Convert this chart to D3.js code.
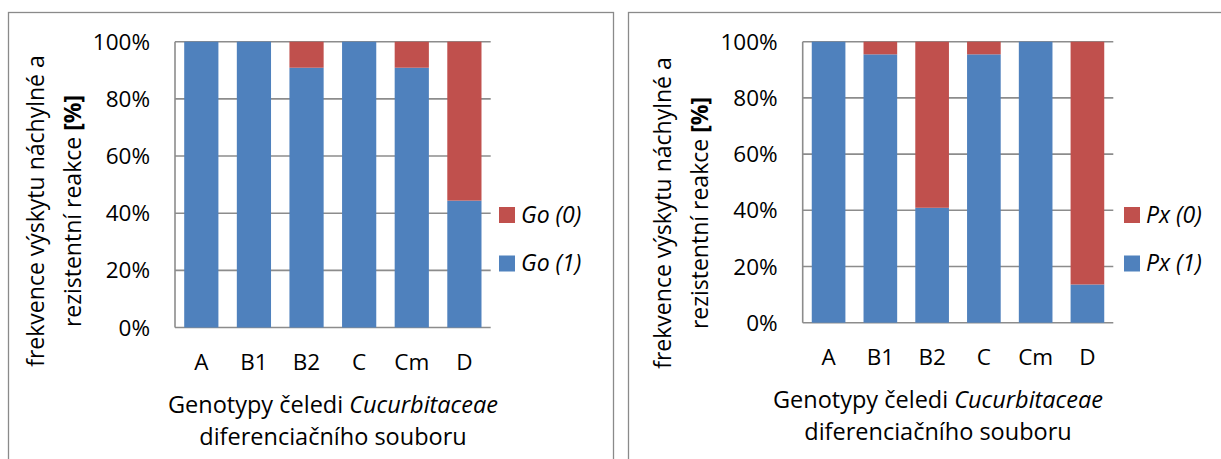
<!DOCTYPE html>
<html>
<head>
<meta charset="utf-8">
<script src="https://cdn.jsdelivr.net/npm/d3@7"></script>
<style>
  html, body { margin: 0; padding: 0; background: #fff; }
  svg { display: block; }
  text { font-family: 'Open Sans', sans-serif; fill: #000; }
</style>
</head>
<body>
<div id="chart"></div>
<script>
// data (share of reactions, %)
const categories = ['A', 'B1', 'B2', 'C', 'Cm', 'D'];
const goResistant = [100, 100, 90.9, 100, 90.9, 44.4];      // Go (1)
const goSusceptible = [0, 0, 9.1, 0, 9.1, 55.6];            // Go (0)
const pxResistant = [100, 95.5, 40.9, 95.5, 100, 13.6];     // Px (1)
const pxSusceptible = [0, 4.5, 59.1, 4.5, 0, 86.4];         // Px (0)
const yTicks = [0, 20, 40, 60, 80, 100];
const goLabels = ['Go (0)', 'Go (1)'];
const pxLabels = ['Px (0)', 'Px (1)'];

const width = 1221, height = 459;
const colors = { res: '#4f81bd', sus: '#c0504d' };
const gridColor = '#8c8c8c';

const svg = d3.select('#chart').append('svg')
  .attr('width', width)
  .attr('height', height);

function drawPanel(cfg) {
  const g = svg.append('g');

  // outer chart frame (runs past the bottom of the picture)
  g.append('rect')
    .attr('x', cfg.frame.x).attr('y', cfg.frame.y)
    .attr('width', cfg.frame.w).attr('height', 500)
    .attr('fill', 'none')
    .attr('stroke', '#8a8a8a')
    .attr('stroke-width', 1.3);

  const x = d3.scaleBand()
    .domain(categories)
    .range([cfg.left, cfg.right])
    .paddingInner(0.35)
    .paddingOuter(0.175);

  const y = d3.scaleLinear()
    .domain([0, 100])
    .range([cfg.bottom, cfg.top]);

  // gridlines
  g.append('g').selectAll('line')
    .data(yTicks)
    .join('line')
    .attr('x1', cfg.left).attr('x2', cfg.right)
    .attr('y1', d => y(d)).attr('y2', d => y(d))
    .attr('stroke', gridColor)
    .attr('stroke-width', 1.6);

  // stacked bars
  const rows = categories.map((c, i) => ({ cat: c, res: cfg.res[i], sus: cfg.sus[i] }));
  const stack = d3.stack().keys(['res', 'sus'])(rows);

  g.append('g').selectAll('g')
    .data(stack)
    .join('g')
    .attr('fill', d => colors[d.key])
    .selectAll('rect')
    .data(d => d)
    .join('rect')
    .attr('x', d => x(d.data.cat))
    .attr('width', x.bandwidth())
    .attr('y', d => y(d[1]))
    .attr('height', d => y(d[0]) - y(d[1]));

  // y axis line
  g.append('line')
    .attr('x1', cfg.left).attr('x2', cfg.left)
    .attr('y1', cfg.top).attr('y2', cfg.bottom)
    .attr('stroke', gridColor)
    .attr('stroke-width', 1.6);

  // y tick labels
  g.append('g').selectAll('text')
    .data(yTicks)
    .join('text')
    .attr('x', cfg.left - 25)
    .attr('y', d => y(d))
    .attr('dy', '0.36em')
    .attr('text-anchor', 'end')
    .style('font-size', '22.5px')
    .text(d => d + '%');

  // category labels
  g.append('g').selectAll('text')
    .data(categories)
    .join('text')
    .attr('x', d => x(d) + x.bandwidth() / 2)
    .attr('y', cfg.bottom + 42.5)
    .attr('text-anchor', 'middle')
    .style('font-size', '22.5px')
    .text(d => d);

  // x axis title
  const t1 = g.append('text')
    .attr('x', cfg.xTitleX)
    .attr('y', cfg.bottom + 85)
    .attr('text-anchor', 'middle')
    .style('font-size', '23.5px');
  t1.append('tspan').text('Genotypy čeledi ');
  t1.append('tspan').style('font-style', 'italic').text('Cucurbitaceae');

  g.append('text')
    .attr('x', cfg.xTitleX)
    .attr('y', cfg.bottom + 117)
    .attr('text-anchor', 'middle')
    .style('font-size', '23.5px')
    .text('diferenciačního souboru');

  // y axis title, two rotated lines
  const yt = g.append('g')
    .attr('transform', 'translate(' + cfg.yTitleX + ',' + cfg.yTitleY + ') rotate(-90)');
  yt.append('text')
    .attr('x', 0).attr('y', 0)
    .attr('text-anchor', 'middle')
    .style('font-size', '23px')
    .text('frekvence výskytu náchylné a');
  const l2 = yt.append('text')
    .attr('x', 0).attr('y', 37)
    .attr('text-anchor', 'middle')
    .style('font-size', '23px');
  l2.append('tspan').text('rezistentní reakce ');
  l2.append('tspan').style('font-weight', 'bold').text('[%]');

  // legend
  const legend = g.append('g').selectAll('g')
    .data([{ key: 'sus', label: cfg.labels[0] }, { key: 'res', label: cfg.labels[1] }])
    .join('g')
    .attr('transform', (d, i) => 'translate(' + cfg.legendX + ',' + (207 + i * 48.5) + ')');
  legend.append('rect')
    .attr('width', 16).attr('height', 16)
    .attr('fill', d => colors[d.key]);
  legend.append('text')
    .attr('x', 22).attr('y', 15.5)
    .style('font-size', '23px')
    .style('font-style', 'italic')
    .text(d => d.label);
}

drawPanel({
  frame: { x: 8.5, y: 12.5, w: 605 },
  left: 175, right: 490.7, top: 41.7, bottom: 327.5,
  res: goResistant, sus: goSusceptible, labels: goLabels,
  xTitleX: 333, yTitleX: 44, yTitleY: 211,
  legendX: 499
});

drawPanel({
  frame: { x: 628.5, y: 12.5, w: 600 },
  left: 802.7, right: 1113.3, top: 41.7, bottom: 322.7,
  res: pxResistant, sus: pxSusceptible, labels: pxLabels,
  xTitleX: 938, yTitleX: 671, yTitleY: 213,
  legendX: 1124
});
</script>
</body>
</html>
